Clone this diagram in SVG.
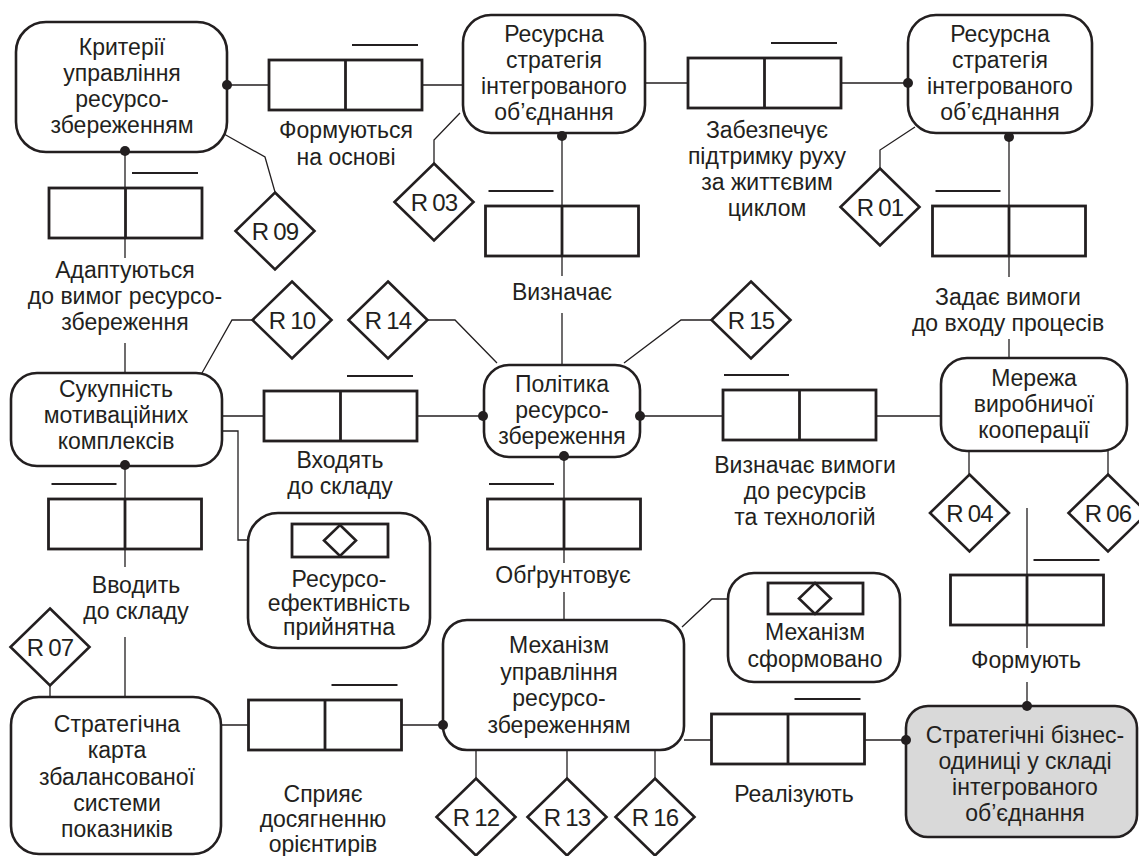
<svg xmlns="http://www.w3.org/2000/svg" width="1139" height="856" viewBox="0 0 1139 856">
<style>
.t{font-family:"Liberation Sans",Arial,sans-serif;font-size:23px;fill:#231f20;text-anchor:middle}
.r{font-family:"Liberation Sans",Arial,sans-serif;font-size:24px;fill:#231f20;text-anchor:middle;letter-spacing:-0.8px;word-spacing:-1px}
.n{fill:#fff;stroke:#231f20;stroke-width:2.6}
.g{fill:#d9d9d9;stroke:#231f20;stroke-width:2.6}
.b{fill:#fff;stroke:#231f20;stroke-width:2.8}
.ol{stroke:#231f20;stroke-width:2}
.c{fill:none;stroke:#231f20;stroke-width:1.3}
.d{fill:#fff;stroke:#231f20;stroke-width:2.6}
.dot{fill:#231f20}
</style>
<defs>
<polygon id="dia" points="0,-38.5 39.5,0 0,38.5 -39.5,0" class="d"/>
<g id="box"><rect x="0" y="0" width="153" height="50" class="b"/><line x1="76.5" y1="0" x2="76.5" y2="50" class="b"/></g>
<line id="olL" x1="3" y1="-15" x2="68" y2="-15" class="ol"/>
<line id="olR" x1="83" y1="-15" x2="149" y2="-15" class="ol"/>
</defs>

<g id="connectors">
<path class="c" d="M227,85H269M422,85H463"/>
<path class="c" d="M224,134L265,157L275,192"/>
<path class="c" d="M460,113L434,140V163"/>
<path class="c" d="M645,83H688M841,83H908"/>
<path class="c" d="M915,127L880,150V168"/>
<path class="c" d="M125,151V258M125,343V373"/>
<path class="c" d="M562,136V276M562,313V365"/>
<path class="c" d="M1009,137V277M1009,339V358"/>
<path class="c" d="M252,320H232L202,373"/>
<path class="c" d="M427,320H455L497,363"/>
<path class="c" d="M712,320H681L624,363"/>
<path class="c" d="M222,416H264M417,416H483"/>
<path class="c" d="M222,431H238V540H292"/>
<path class="c" d="M125,465V567M125,637V697"/>
<path class="c" d="M640,416H723M876,416H941"/>
<path class="c" d="M564,456V563M564,592V620"/>
<path class="c" d="M969,451V474M1108,451V474"/>
<path class="c" d="M1027,508V648M1027,682V706"/>
<path class="c" d="M50,685V697"/>
<path class="c" d="M221,725H248M402,725H443"/>
<path class="c" d="M682,627L712,599H768"/>
<path class="c" d="M476,750V778M567,750V778M655,750V778"/>
<path class="c" d="M684,740H712M864,740H906"/>
</g>

<g id="rel1"><use href="#box" x="269" y="60"/><use href="#olR" x="269" y="60"/>
<text class="t" x="346" y="138">Формуються</text><text class="t" x="346" y="165">на основі</text></g>
<g id="rel2"><use href="#box" x="49" y="188"/><use href="#olR" x="49" y="188"/>
<text class="t" x="125" y="278">Адаптуються</text><text class="t" x="125" y="304">до вимог ресурсо-</text><text class="t" x="125" y="330">збереження</text></g>
<g id="rel3"><use href="#box" x="688" y="58"/><use href="#olR" x="688" y="58"/>
<text class="t" x="767" y="138">Забезпечує</text><text class="t" x="767" y="164">підтримку руху</text><text class="t" x="767" y="190">за життєвим</text><text class="t" x="767" y="216">циклом</text></g>
<g id="rel4"><use href="#box" x="485.5" y="206"/><use href="#olL" x="485.5" y="206"/>
<text class="t" x="562" y="300">Визначає</text></g>
<g id="rel5"><use href="#box" x="932.5" y="206"/><use href="#olL" x="932.5" y="206"/>
<text class="t" x="1008" y="305">Задає вимоги</text><text class="t" x="1008" y="331">до входу процесів</text></g>
<g id="rel6"><use href="#box" x="264" y="391"/><use href="#olR" x="264" y="391"/>
<text class="t" x="340" y="468">Входять</text><text class="t" x="340" y="494">до складу</text></g>
<g id="rel7"><use href="#box" x="48.5" y="499"/><use href="#olL" x="48.5" y="499"/>
<text class="t" x="136" y="593">Вводить</text><text class="t" x="136" y="619">до складу</text></g>
<g id="rel8"><use href="#box" x="723" y="390"/><use href="#olL" x="721" y="390"/>
<text class="t" x="805" y="473">Визначає вимоги</text><text class="t" x="805" y="499">до ресурсів</text><text class="t" x="805" y="525">та технологій</text></g>
<g id="rel9"><use href="#box" x="487.5" y="499"/><use href="#olL" x="486" y="499"/>
<text class="t" x="563" y="583">Обґрунтовує</text></g>
<g id="rel10"><use href="#box" x="950.5" y="575"/><use href="#olR" x="950.5" y="575"/>
<text class="t" x="1026" y="668">Формують</text></g>
<g id="rel11"><use href="#box" x="248.5" y="700"/><use href="#olR" x="248.5" y="700"/>
<text class="t" x="323" y="802">Сприяє</text><text class="t" x="323" y="827">досягненню</text><text class="t" x="323" y="852">орієнтирів</text></g>
<g id="rel12"><use href="#box" x="711.5" y="714"/><use href="#olR" x="711.5" y="714"/>
<text class="t" x="794" y="802">Реалізують</text></g>

<g id="node-kryterii"><rect class="n" x="16" y="22" width="211" height="130" rx="30"/>
<text class="t" x="122" y="55">Критерії</text><text class="t" x="122" y="81">управління</text><text class="t" x="122" y="107">ресурсо-</text><text class="t" x="122" y="133">збереженням</text>
<circle class="dot" cx="227" cy="85" r="5"/><circle class="dot" cx="125" cy="151" r="5"/></g>
<g id="node-strategy1"><rect class="n" x="463" y="15" width="182" height="118" rx="28"/>
<text class="t" x="554" y="42">Ресурсна</text><text class="t" x="554" y="68">стратегія</text><text class="t" x="554" y="94">інтегрованого</text><text class="t" x="554" y="120">об’єднання</text>
<circle class="dot" cx="562" cy="136" r="5"/></g>
<g id="node-strategy2"><rect class="n" x="908" y="15" width="184" height="118" rx="28"/>
<text class="t" x="1000" y="42">Ресурсна</text><text class="t" x="1000" y="68">стратегія</text><text class="t" x="1000" y="94">інтегрованого</text><text class="t" x="1000" y="120">об’єднання</text>
<circle class="dot" cx="908" cy="83" r="5"/><circle class="dot" cx="1009" cy="137" r="5"/></g>
<g id="node-sukupnist"><rect class="n" x="11" y="373" width="211" height="93" rx="26"/>
<text class="t" x="116" y="397">Сукупність</text><text class="t" x="116" y="423">мотиваційних</text><text class="t" x="116" y="449">комплексів</text>
<circle class="dot" cx="125" cy="465" r="5"/></g>
<g id="node-polityka"><rect class="n" x="484" y="365" width="156" height="92" rx="25"/>
<text class="t" x="562" y="392">Політика</text><text class="t" x="562" y="418">ресурсо-</text><text class="t" x="562" y="444">збереження</text>
<circle class="dot" cx="483" cy="416" r="5"/><circle class="dot" cx="640" cy="416" r="5"/><circle class="dot" cx="564" cy="456" r="5"/></g>
<g id="node-merezha"><rect class="n" x="941" y="358" width="186" height="93" rx="26"/>
<text class="t" x="1034" y="386">Мережа</text><text class="t" x="1034" y="412">виробничої</text><text class="t" x="1034" y="438">кооперації</text></g>
<g id="node-efekt"><rect class="n" x="248" y="513" width="182" height="135" rx="30"/>
<rect class="b" x="292" y="524" width="96" height="33"/><polygon class="d" points="340,525 356,540.5 340,556 324,540.5"/>
<text class="t" x="339" y="587">Ресурсо-</text><text class="t" x="339" y="611">ефективність</text><text class="t" x="339" y="635">прийнятна</text></g>
<g id="node-mekh-sform"><rect class="n" x="728" y="573" width="172" height="109" rx="26"/>
<rect class="b" x="768" y="583" width="95" height="31"/><polygon class="d" points="815,583 831,598.5 815,614 799,598.5"/>
<text class="t" x="815" y="640">Механізм</text><text class="t" x="815" y="667">сформовано</text></g>
<g id="node-karta"><rect class="n" x="11" y="697" width="210" height="157" rx="28"/>
<text class="t" x="117" y="732">Стратегічна</text><text class="t" x="117" y="758">карта</text><text class="t" x="117" y="785">збалансованої</text><text class="t" x="117" y="811">системи</text><text class="t" x="117" y="837">показників</text></g>
<g id="node-mekhanizm"><rect class="n" x="443" y="620" width="241" height="130" rx="24"/>
<text class="t" x="559" y="653">Механізм</text><text class="t" x="559" y="680">управління</text><text class="t" x="559" y="706">ресурсо-</text><text class="t" x="559" y="733">збереженням</text>
<circle class="dot" cx="443" cy="725" r="5"/></g>
<g id="node-sbo"><rect class="g" x="906" y="706" width="231" height="131" rx="22"/>
<text class="t" x="1025" y="743">Стратегічні бізнес-</text><text class="t" x="1025" y="769">одиниці у складі</text><text class="t" x="1025" y="795">інтегрованого</text><text class="t" x="1025" y="821">об’єднання</text>
<circle class="dot" cx="906" cy="740" r="5"/><circle class="dot" cx="1027" cy="706" r="5"/></g>

<g id="R09"><use href="#dia" x="275" y="231"/><text class="r" x="275" y="239.5">R 09</text></g>
<g id="R03"><use href="#dia" x="434" y="202"/><text class="r" x="434" y="210.5">R 03</text></g>
<g id="R01"><use href="#dia" x="880" y="207"/><text class="r" x="880" y="215.5">R 01</text></g>
<g id="R10"><use href="#dia" x="292" y="320"/><text class="r" x="292" y="328.5">R 10</text></g>
<g id="R14"><use href="#dia" x="388" y="320"/><text class="r" x="388" y="328.5">R 14</text></g>
<g id="R15"><use href="#dia" x="751" y="320"/><text class="r" x="751" y="328.5">R 15</text></g>
<g id="R04"><use href="#dia" x="969.5" y="513"/><text class="r" x="969.5" y="521.5">R 04</text></g>
<g id="R06"><use href="#dia" x="1108" y="513"/><text class="r" x="1108" y="521.5">R 06</text></g>
<g id="R07"><use href="#dia" x="50" y="647"/><text class="r" x="50" y="655.5">R 07</text></g>
<g id="R12"><use href="#dia" x="476" y="817"/><text class="r" x="476" y="825.5">R 12</text></g>
<g id="R13"><use href="#dia" x="567" y="817"/><text class="r" x="567" y="825.5">R 13</text></g>
<g id="R16"><use href="#dia" x="655" y="817"/><text class="r" x="655" y="825.5">R 16</text></g>
</svg>
